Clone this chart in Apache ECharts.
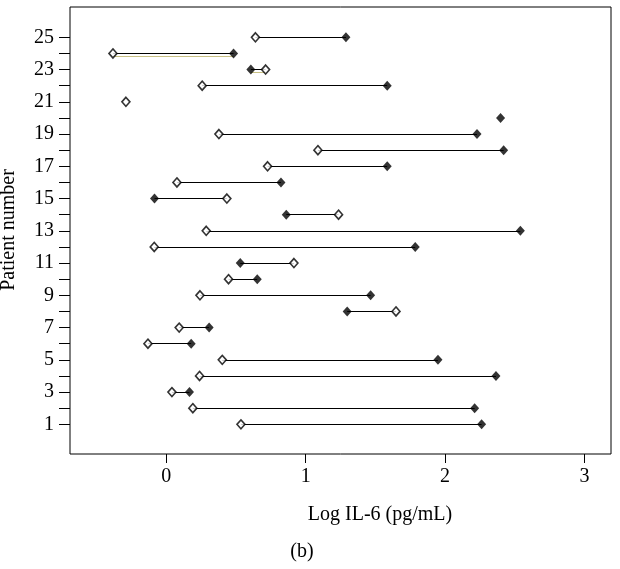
<!DOCTYPE html>
<html>
<head>
<meta charset="utf-8">
<script src="https://cdn.jsdelivr.net/npm/echarts@6/dist/echarts.min.js"></script>
<style>html,body{margin:0;padding:0;background:#fff}#c{width:620px;height:569px}</style>
</head>
<body>
<div id="c"></div>
<script>
// Patient numbers
var patients = [1,2,3,4,5,6,7,8,9,10,11,12,13,14,15,16,17,18,19,20,21,22,23,24,25];
// Open diamonds (log IL-6)
var openVals = [0.536,0.191,0.041,0.239,0.402,-0.131,0.093,1.648,0.242,0.447,0.916,-0.086,0.287,1.236,0.435,0.077,0.727,1.088,0.378,null,-0.289,0.258,0.713,-0.382,0.640];
// Filled diamonds (log IL-6)
var filledVals = [2.262,2.212,0.167,2.365,1.949,0.179,0.308,1.298,1.466,0.653,0.531,1.786,2.540,0.861,-0.084,0.823,1.585,2.420,2.229,2.398,null,1.585,0.607,0.483,1.289];
// Tick labels
var xTicks = [0,1,2,3];
var yTicks = [1,2,3,4,5,6,7,8,9,10,11,12,13,14,15,16,17,18,19,20,21,22,23,24,25];
var yLabels = [1,3,5,7,9,11,13,15,17,19,21,23,25];
// Rows that show a faint offset khaki stroke under the segment
var tintRows = [24,23];

var FONT = '"Liberation Serif", "DejaVu Serif", serif';

var segData = [], openData = [], filledData = [], tintData = [];
patients.forEach(function(p, i){
  var o = openVals[i], f = filledVals[i];
  if (o != null) openData.push([o, p]);
  if (f != null) filledData.push([f, p]);
  if (o != null && f != null) {
    segData.push({coords: [[o, p], [f, p]]});
    if (tintRows.indexOf(p) >= 0) tintData.push({coords: [[o, p - 0.19], [f, p - 0.19]]});
  }
});

var chart = echarts.init(document.getElementById('c'), null, {renderer: 'canvas'});
chart.setOption({
  animation: false,
  backgroundColor: '#fff',
  grid: {left: 70, top: 7, width: 541, height: 447, show: true, borderColor: '#000', borderWidth: 1, backgroundColor: 'transparent'},
  xAxis: {
    type: 'value', min: -0.69, max: 3.19,
    axisLine: {show: false, onZero: false},
    splitLine: {show: false},
    axisTick: {show: true, length: 9, lineStyle: {color: '#000'}, customValues: xTicks},
    axisLabel: {color: '#000', fontFamily: FONT, fontSize: 20, margin: 13, customValues: xTicks}
  },
  yAxis: {
    type: 'value', min: -0.84, max: 26.88,
    axisLine: {show: false, onZero: false},
    splitLine: {show: false},
    axisTick: {show: true, length: 11, lineStyle: {color: '#000'}, customValues: yTicks},
    axisLabel: {color: '#000', fontFamily: FONT, fontSize: 20, margin: 16, customValues: yLabels}
  },
  graphic: [
    {type: 'text', x: 380, y: 515, style: {text: 'Log IL-6 (pg/mL)', font: '20px ' + FONT, fill: '#000', textAlign: 'center', textVerticalAlign: 'middle'}},
    {type: 'text', x: 302, y: 552, style: {text: '(b)', font: '20px ' + FONT, fill: '#000', textAlign: 'center', textVerticalAlign: 'middle'}},
    {type: 'text', x: 9, y: 230, rotation: Math.PI / 2, style: {text: 'Patient number', font: '20px ' + FONT, fill: '#000', textAlign: 'center', textVerticalAlign: 'middle'}}
  ],
  series: [
    {type: 'lines', coordinateSystem: 'cartesian2d', data: tintData, silent: true, lineStyle: {color: '#c9c184', width: 1.2, opacity: 1}, z: 1},
    {type: 'lines', coordinateSystem: 'cartesian2d', data: segData, silent: true, lineStyle: {color: '#000', width: 1, opacity: 1}, z: 2},
    {type: 'scatter', data: openData, symbol: 'diamond', symbolSize: [8, 9], itemStyle: {color: '#fff', borderColor: '#000', borderWidth: 1.6}, z: 3},
    {type: 'scatter', data: filledData, symbol: 'diamond', symbolSize: [9, 10], itemStyle: {color: '#000'}, z: 4}
  ]
});
</script>
</body>
</html>
